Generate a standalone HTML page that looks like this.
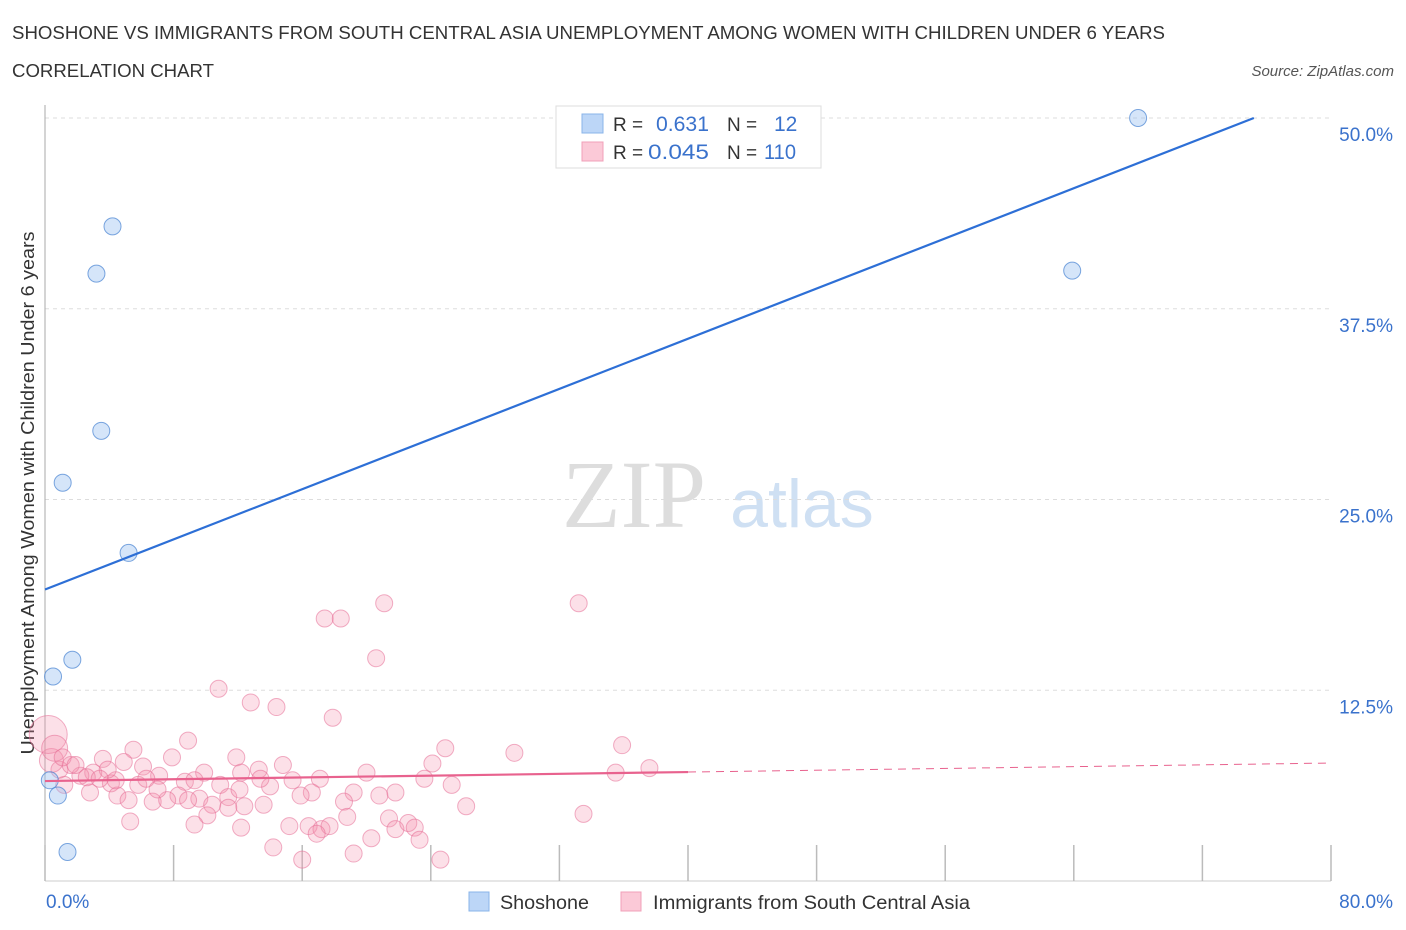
<!DOCTYPE html>
<html><head><meta charset="utf-8"><style>
body{margin:0;background:#fff;width:1406px;height:930px;overflow:hidden;font-family:"Liberation Sans",sans-serif;}
svg{position:absolute;left:0;top:0}
</style></head><body>
<svg id="chart" width="1406" height="930" font-family="Liberation Sans, sans-serif">
<text x="12" y="39" font-size="18" fill="#333" textLength="1153" lengthAdjust="spacingAndGlyphs">SHOSHONE VS IMMIGRANTS FROM SOUTH CENTRAL ASIA UNEMPLOYMENT AMONG WOMEN WITH CHILDREN UNDER 6 YEARS</text>
<text x="12" y="77" font-size="18" fill="#333" textLength="202" lengthAdjust="spacingAndGlyphs">CORRELATION CHART</text>
<text x="1394" y="76" font-size="15" fill="#555" font-style="italic" text-anchor="end">Source: ZipAtlas.com</text>
<g>
<text x="634" y="527" font-size="96" fill="#ddd" font-family="Liberation Serif, serif" text-anchor="middle">ZIP</text>
<text x="802" y="527" font-size="68" fill="#cfe0f3" text-anchor="middle">atlas</text>
</g>
<text transform="translate(34,493) rotate(-90)" font-size="18" fill="#333" text-anchor="middle" textLength="523" lengthAdjust="spacingAndGlyphs">Unemployment Among Women with Children Under 6 years</text>
<g id="grid"></g><g id="marks"></g>
<g>
<rect x="556" y="106" width="265" height="62" fill="#fff" stroke="#ddd"/>
<rect x="582" y="114" width="21" height="19" fill="#bcd6f7" stroke="#8ab4ea"/>
<rect x="582" y="142" width="21" height="19" fill="#fbc9d7" stroke="#f0a0b8"/>
<text x="613" y="131" font-size="19" fill="#333">R =</text>
<text x="656" y="131" font-size="21" fill="#3a72cc" textLength="53" lengthAdjust="spacingAndGlyphs">0.631</text>
<text x="727" y="131" font-size="19" fill="#333">N =</text>
<text x="774" y="131" font-size="21" fill="#3a72cc">12</text>
<text x="613" y="159" font-size="19" fill="#333">R =</text>
<text x="648" y="159" font-size="21" fill="#3a72cc" textLength="61" lengthAdjust="spacingAndGlyphs">0.045</text>
<text x="727" y="159" font-size="19" fill="#333">N =</text>
<text x="764" y="159" font-size="21" fill="#3a72cc" textLength="32" lengthAdjust="spacingAndGlyphs">110</text>
</g>
<g>
<rect x="469" y="892" width="20" height="19" fill="#bcd6f7" stroke="#8ab4ea"/>
<text x="500" y="909" font-size="19" fill="#333" textLength="89" lengthAdjust="spacingAndGlyphs">Shoshone</text>
<rect x="621" y="892" width="20" height="19" fill="#fbc9d7" stroke="#f0a0b8"/>
<text x="653" y="909" font-size="19" fill="#333" textLength="317" lengthAdjust="spacingAndGlyphs">Immigrants from South Central Asia</text>
</g>
</svg>
<script>
const yTicks=[12.5,25,37.5,50];
const yTickLabels=["12.5%","25.0%","37.5%","50.0%"];
const xTicks=[0,8,16,24,32,40,48,56,64,72,80];
const xEndLabels=["0.0%","80.0%"];
const blueX=[0.3,0.8,1.4,0.5,1.7,5.2,1.1,3.5,3.2,4.2,63.9,68.0];
const blueY=[6.6,5.6,1.9,13.4,14.5,21.5,26.1,29.5,39.8,42.9,40.0,50.0];
const pinkX=[17.4,18.4,21.1,33.2,20.6,10.8,12.8,14.4,17.9,8.9,5.5,24.9,29.2,35.9,11.9,7.9,3.6,4.9,14.8,24.1,37.6,35.5,13.3,6.1,9.9,20.0,17.1,15.4,12.2,8.7,7.1,3.0,2.2,4.1,5.8,10.9,14.0,16.6,25.3,23.6,21.8,19.2,20.8,15.9,9.6,8.3,4.5,2.8,1.2,5.2,6.7,7.6,11.4,10.4,12.4,13.6,18.6,26.2,10.1,11.4,18.8,21.4,33.5,5.3,9.3,12.2,15.2,16.4,17.2,17.7,21.8,22.6,23.0,23.3,20.3,16.9,14.2,16.0,19.2,24.6,4.4,6.3,3.9,9.3,0.9,1.6,0.4,0.2,0.6,1.1,1.9,2.6,3.4,7.0,12.1,13.4,8.9];
const pinkY=[17.2,17.2,18.2,18.2,14.6,12.6,11.7,11.4,10.7,9.2,8.6,8.7,8.4,8.9,8.1,8.1,8.0,7.8,7.6,7.7,7.4,7.1,7.3,7.5,7.1,7.1,6.7,6.6,7.1,6.5,6.9,7.1,6.9,6.4,6.3,6.3,6.2,5.8,6.3,6.7,5.8,5.8,5.6,5.6,5.4,5.6,5.6,5.8,6.3,5.3,5.2,5.3,5.5,5.0,4.9,5.0,5.2,4.9,4.3,4.8,4.2,4.1,4.4,3.9,3.7,3.5,3.6,3.6,3.4,3.6,3.4,3.8,3.5,2.7,2.8,3.1,2.2,1.4,1.8,1.4,6.6,6.7,7.3,6.6,7.3,7.6,7.9,9.6,8.7,8.1,7.6,6.8,6.7,6.0,6.0,6.7,5.3];
const pinkR=[];for(let i=0;i<pinkX.length;i++){pinkR.push(8.5);} pinkR[87]=19;pinkR[88]=13;pinkR[86]=12;
const blueTrend=[19.1,50.0,75.2];
const pinkTrend=[6.55,7.73,40];
const NS="http://www.w3.org/2000/svg";
const X0=45,X1=1331,Y0=881,Y50=118;
const sx=v=>X0+(X1-X0)*v/80, sy=v=>Y0-(Y0-Y50)*v/50;
function mk(t,a,p){const e=document.createElementNS(NS,t);for(const k in a)e.setAttribute(k,a[k]);p.appendChild(e);return e;}
const grid=document.getElementById('grid'),marks=document.getElementById('marks');
yTicks.forEach((t,i)=>{
 const l=mk('line',{x1:X0,x2:X1,y1:sy(t),y2:sy(t),stroke:'#ddd','stroke-dasharray':'4,4'},grid);
 
 
 const tx=mk('text',{x:1393,y:sy(t)+23,'font-size':19,fill:'#3a72cc','text-anchor':'end'},grid);
 tx.textContent=yTickLabels[i];
 
 
});
const ax=mk('line',{x1:X0,x2:X0,y1:105,y2:Y0,stroke:'#aaa'},grid);


const bx=mk('line',{x1:X0,x2:X1,y1:Y0,y2:Y0,stroke:'#ccc'},grid);


xTicks.forEach(t=>{
 const l=mk('line',{x1:sx(t),x2:sx(t),y1:845,y2:Y0,stroke:'#bbb','stroke-width':1.5},grid);
 
 
});
[[0,'start',46],[80,'end',1393]].forEach((d,i)=>{
 const tx=mk('text',{x:d[2],y:908,'font-size':19,fill:'#3a72cc','text-anchor':d[1]},grid);
 tx.textContent=xEndLabels[i];
 
 
});
pinkX.forEach((x,i)=>{
 const c=mk('circle',{cx:sx(x),cy:sy(pinkY[i]),r:pinkR[i],fill:'rgba(244,143,172,0.28)',stroke:'rgba(230,110,150,0.55)','stroke-width':1},marks);
 
 
});
blueX.forEach((x,i)=>{
 const c=mk('circle',{cx:sx(x),cy:sy(blueY[i]),r:8.5,fill:'rgba(150,190,240,0.4)',stroke:'rgba(70,130,210,0.7)','stroke-width':1},marks);
 
 
});
const bl=mk('line',{x1:sx(0),y1:sy(blueTrend[0]),x2:sx(blueTrend[2]),y2:sy(blueTrend[1]),stroke:'#2d6fd6','stroke-width':2.2},marks);


const py=x=>pinkTrend[0]+(pinkTrend[1]-pinkTrend[0])*x/80;
const pl=mk('line',{x1:sx(0),y1:sy(py(0)),x2:sx(pinkTrend[2]),y2:sy(py(pinkTrend[2])),stroke:'#e8628e','stroke-width':2.2},marks);


const pd=mk('line',{x1:sx(pinkTrend[2]),y1:sy(py(pinkTrend[2])),x2:sx(80),y2:sy(py(80)),stroke:'#e8628e','stroke-width':1,'stroke-dasharray':'8,6'},marks);


</script>
</body></html>
